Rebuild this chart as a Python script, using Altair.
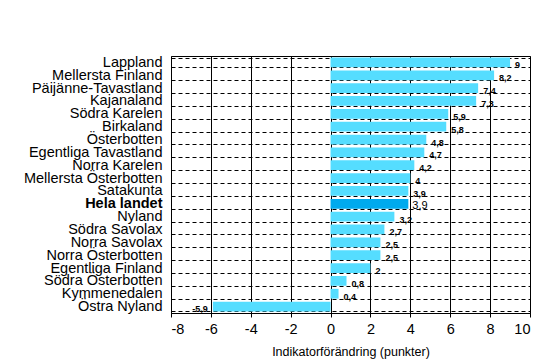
import altair as alt
import pandas as pd

regions = [
    "Lappland", "Mellersta Finland", "Päijänne-Tavastland", "Kajanaland",
    "Södra Karelen", "Birkaland", "Österbotten", "Egentliga Tavastland",
    "Norra Karelen", "Mellersta Österbotten", "Satakunta", "Hela landet",
    "Nyland", "Södra Savolax", "Norra Savolax", "Norra Österbotten",
    "Egentliga Finland", "Södra Österbotten", "Kymmenedalen", "Östra Nyland",
]
values = [9, 8.2, 7.4, 7.3, 5.9, 5.8, 4.8, 4.7, 4.2, 4, 3.9, 3.9,
          3.2, 2.7, 2.5, 2.5, 2, 0.8, 0.4, -5.9]
x_ticks = [-8, -6, -4, -2, 0, 2, 4, 6, 8, 10]
x_title = "Indikatorförändring (punkter)"
total_label = "Hela landet"

df = pd.DataFrame({"region": regions, "value": values})

FONT = "Liberation Sans"

y_enc = alt.Y(
    "region:N", sort=regions, title=None,
    scale=alt.Scale(paddingInner=0.24, paddingOuter=0.12),
    axis=alt.Axis(
        domain=False, ticks=False, grid=True, tickBand="extent",
        gridDash=[4, 3], gridColor="black", gridOpacity=1, gridWidth=1,
        labelFont=FONT, labelFontSize=14.5, labelColor="black",
        labelPadding=9, labelLimit=250,
        labelFontWeight={"condition": {"test": f"datum.value == '{total_label}'", "value": "bold"}, "value": "normal"},
    ),
)
x_enc = alt.X(
    "value:Q", scale=alt.Scale(domain=[-8, 10], nice=False, zero=False), title=x_title,
    axis=alt.Axis(
        values=x_ticks, grid=True, gridColor="black", gridOpacity=1,
        labelOverlap=False, labelExpr="toString(datum.value)",
        domainColor="black", tickColor="black", tickSize=4,
        labelFont=FONT, labelFontSize=14.5, labelColor="black", labelPadding=5,
        titleFont=FONT, titleFontSize=12.5, titleFontWeight="normal",
        titleColor="black", titlePadding=10,
    ),
)

base = alt.Chart(df).encode(x=x_enc, y=y_enc)

bars = base.mark_bar().encode(
    x2=alt.datum(0),
    color=alt.condition(
        f"datum.region == '{total_label}'",
        alt.value("#00AAEE"), alt.value("#55DDFF"),
    ),
)

base_text = base.transform_calculate(
    lab="replace(toString(datum.value), '.', ',')"
).encode(text="lab:N")

pos_text = base_text.transform_filter(
    f"datum.value >= 0 && datum.region != '{total_label}'"
).mark_text(align="left", baseline="middle", dx=5, dy=3, fontSize=9,
            fontWeight="bold", font=FONT, color="black")

total_text = base_text.transform_filter(
    f"datum.region == '{total_label}'"
).mark_text(align="left", baseline="middle", dx=4, dy=2, fontSize=11,
            font=FONT, color="black")

neg_text = base_text.transform_filter("datum.value < 0").mark_text(
    align="right", baseline="middle", dx=-5, dy=2, fontSize=9,
    fontWeight="bold", font=FONT, color="black")

chart = alt.layer(bars, pos_text, total_text, neg_text).properties(
    width=359, height=257,
    autosize=alt.AutoSizeParams(type="none"),
    padding={"left": 163, "top": 48, "right": 15, "bottom": 48},
    background="white",
).configure_view(stroke="black", strokeWidth=1)

chart.save("out.html", embed_options={"renderer": "svg", "actions": False})
